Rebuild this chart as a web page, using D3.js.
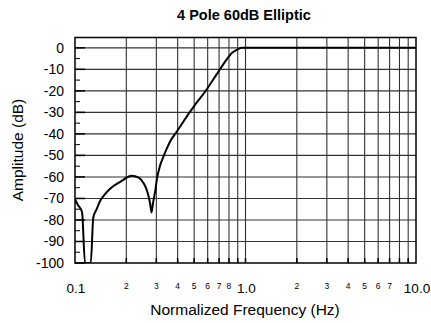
<!DOCTYPE html>
<html>
<head>
<meta charset="utf-8">
<script src="https://cdn.jsdelivr.net/npm/d3@7"></script>
<style>
  body { margin: 0; background: #fff; }
  text { font-family: "Liberation Sans", Arial, sans-serif; fill: #000; }
</style>
</head>
<body>
<div id="chart"></div>
<script>
// response: normalized frequency (Hz) and amplitude (dB)
const freq = [0.1, 0.104, 0.110, 0.1145, 0.1237, 0.128, 0.134, 0.1403, 0.150, 0.1607,
    0.184, 0.2154, 0.236, 0.252, 0.266, 0.276, 0.281, 0.287, 0.2955,
    0.3023, 0.316, 0.3306, 0.3383, 0.362, 0.3964, 0.4336, 0.4747, 0.508, 0.5817, 0.6368,
    0.6966, 0.7627, 0.8351, 0.8935, 0.956, 1.0, 10.0];
const amplitude = [-70.4, -73, -76.4, -100, -100, -79, -75, -71.2, -68, -65.5,
    -62.3, -59.5, -60.3, -62.8, -67, -72.5, -76.5, -72, -66.5,
    -61, -54.5, -50.5, -48.5, -43.4, -38.8, -34.1, -29.5, -26.3, -20.2, -15.5,
    -10.9, -6.2, -2.3, -0.8, 0, 0, 0];

const yTicks = [0, -10, -20, -30, -40, -50, -60, -70, -80, -90, -100];
const yMinor = [-5, -15, -25, -35, -45, -55, -65, -75, -85, -95];
const xGrid = [0.2, 0.3, 0.4, 0.5, 0.6, 0.7, 0.8, 0.9, 1, 2, 3, 4, 5, 6, 7, 8, 9];
const xBigLabels = [0.1, 1, 10];
const xSmallLabels = [0.2, 0.3, 0.4, 0.5, 0.6, 0.7, 0.8, 2, 3, 4, 5, 6, 7];

const width = 431, height = 323;
const margin = {top: 37.5, right: 15, bottom: 60, left: 75};

const svg = d3.select("#chart").append("svg")
    .attr("width", width)
    .attr("height", height);

const x = d3.scaleLog()
    .domain([0.1, 10])
    .range([margin.left, width - margin.right]);

const y = d3.scaleLinear()
    .domain([-100, 4.8])
    .range([height - margin.bottom, margin.top]);

// grid
svg.append("g")
    .selectAll("line.vgrid")
    .data(xGrid)
    .enter().append("line")
    .attr("class", "vgrid")
    .attr("x1", d => x(d)).attr("x2", d => x(d))
    .attr("y1", y.range()[1]).attr("y2", y.range()[0])
    .attr("stroke", "#333")
    .attr("stroke-width", 1.1);

svg.append("g")
    .selectAll("line.hgrid")
    .data(yTicks.slice(0, -1))
    .enter().append("line")
    .attr("class", "hgrid")
    .attr("x1", x.range()[0]).attr("x2", x.range()[1])
    .attr("y1", d => y(d)).attr("y2", d => y(d))
    .attr("stroke", "#333")
    .attr("stroke-width", 1.1);

// tick stubs inside the frame
svg.append("g")
    .selectAll("line")
    .data(yTicks)
    .enter().append("line")
    .attr("x1", x.range()[0]).attr("x2", x.range()[0] + 10)
    .attr("y1", d => y(d)).attr("y2", d => y(d))
    .attr("stroke", "#000").attr("stroke-width", 1.5);

svg.append("g")
    .selectAll("line")
    .data(yMinor)
    .enter().append("line")
    .attr("x1", x.range()[0]).attr("x2", x.range()[0] + 5)
    .attr("y1", d => y(d)).attr("y2", d => y(d))
    .attr("stroke", "#000").attr("stroke-width", 1);

svg.append("g")
    .selectAll("line")
    .data(xGrid)
    .enter().append("line")
    .attr("x1", d => x(d)).attr("x2", d => x(d))
    .attr("y1", y.range()[0]).attr("y2", y.range()[0] - 5)
    .attr("stroke", "#000").attr("stroke-width", 1.5);

// response curve
svg.append("clipPath").attr("id", "plotClip")
    .append("rect")
    .attr("x", x.range()[0]).attr("y", y.range()[1])
    .attr("width", x.range()[1] - x.range()[0])
    .attr("height", y.range()[0] - y.range()[1]);

const line = d3.line()
    .x((d, i) => x(freq[i]))
    .y(d => y(d))
    .curve(d3.curveMonotoneX);

svg.append("path")
    .datum(amplitude)
    .attr("clip-path", "url(#plotClip)")
    .attr("fill", "none")
    .attr("stroke", "#000")
    .attr("stroke-width", 2)
    .attr("stroke-linejoin", "round")
    .attr("d", line);

// frame
svg.append("rect")
    .attr("x", x.range()[0]).attr("y", y.range()[1])
    .attr("width", x.range()[1] - x.range()[0])
    .attr("height", y.range()[0] - y.range()[1])
    .attr("fill", "none")
    .attr("stroke", "#000")
    .attr("stroke-width", 1.5);

// y labels
svg.append("g")
    .selectAll("text")
    .data(yTicks)
    .enter().append("text")
    .attr("x", 64)
    .attr("y", d => y(d))
    .attr("dy", "0.35em")
    .attr("text-anchor", "end")
    .style("font-size", "14px")
    .text(d => d);

// x labels
svg.append("g")
    .selectAll("text")
    .data(xBigLabels)
    .enter().append("text")
    .attr("x", d => x(d) + 1)
    .attr("y", 293)
    .attr("text-anchor", "middle")
    .style("font-size", "13.5px")
    .text(d => d.toFixed(1));

svg.append("g")
    .selectAll("text")
    .data(xSmallLabels)
    .enter().append("text")
    .attr("x", d => x(d))
    .attr("y", 288.5)
    .attr("text-anchor", "middle")
    .style("font-size", "8.5px")
    .text(d => d < 1 ? Math.round(d * 10) : d);

// titles
svg.append("text")
    .attr("x", 244).attr("y", 20)
    .attr("text-anchor", "middle")
    .style("font-size", "14.5px")
    .style("font-weight", "bold")
    .text("4 Pole 60dB Elliptic");

svg.append("text")
    .attr("x", 245).attr("y", 315)
    .attr("text-anchor", "middle")
    .style("font-size", "15.5px")
    .text("Normalized Frequency (Hz)");

svg.append("text")
    .attr("transform", "translate(23,150) rotate(-90)")
    .attr("text-anchor", "middle")
    .style("font-size", "15.5px")
    .text("Amplitude (dB)");
</script>
</body>
</html>
